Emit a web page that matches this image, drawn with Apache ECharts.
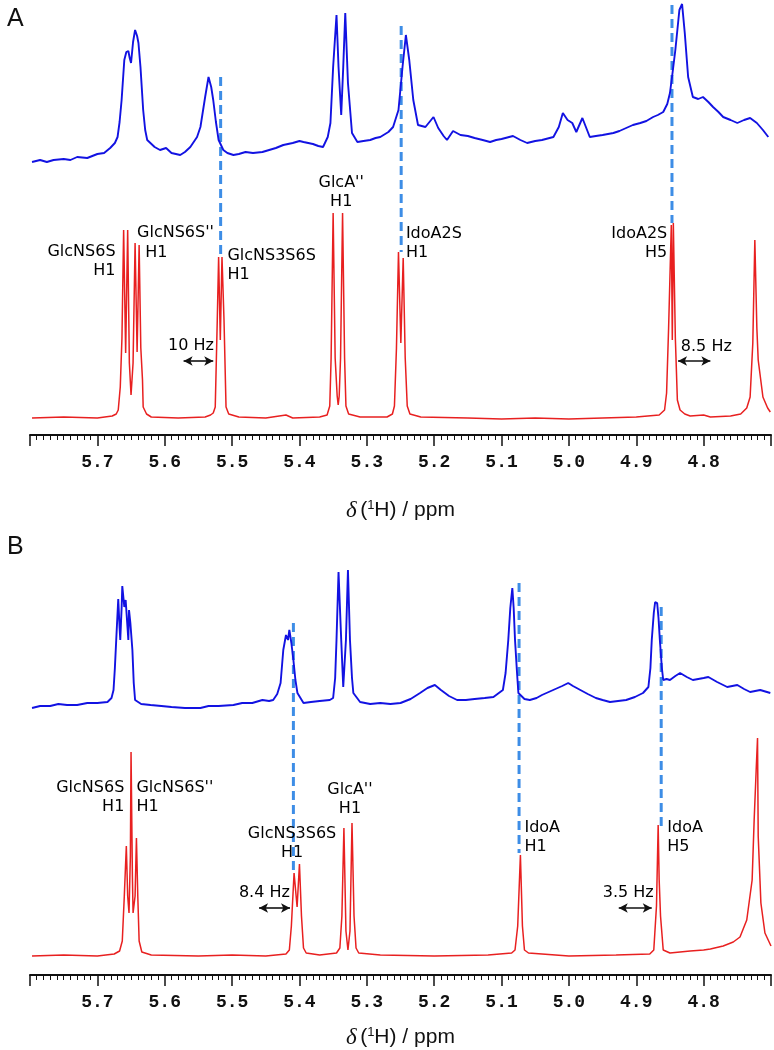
<!DOCTYPE html>
<html><head><meta charset="utf-8">
<script src="https://cdn.jsdelivr.net/npm/echarts/dist/echarts.min.js"></script>
<style>html,body{margin:0;padding:0;background:#fff}#c{width:774px;height:1050px}</style>
</head><body><div id="c"></div>
<script>
// ---- DATA (ppm, intensity) ----
const xTicks = [5.7, 5.6, 5.5, 5.4, 5.3, 5.2, 5.1, 5.0, 4.9, 4.8];

const blueA = [[5.797,0],[5.785,2],[5.775,0],[5.765,2],[5.750,3],[5.740,2],[5.730,5],[5.715,4],[5.700,8],[5.690,9],[5.681,14],[5.674,19],[5.670,25],[5.667,40],[5.664,62],[5.660,102],[5.657,110],[5.654,111],[5.652,104],[5.650,99],[5.647,120],[5.644,132],[5.641,126],[5.639,119],[5.636,95],[5.632,52],[5.629,32],[5.626,22],[5.615,15],[5.607,12],[5.598,14],[5.590,9],[5.577,7],[5.570,10],[5.562,15],[5.552,25],[5.547,35],[5.540,65],[5.535,85],[5.531,75],[5.528,62],[5.524,40],[5.520,22],[5.513,12],[5.507,9],[5.498,7],[5.490,8],[5.480,10],[5.469,9],[5.455,10],[5.445,12],[5.435,14],[5.424,17],[5.410,19],[5.400,21],[5.394,20],[5.380,18],[5.372,16],[5.365,15],[5.358,25],[5.354,39],[5.350,95],[5.345,147],[5.342,95],[5.338,47],[5.335,95],[5.332,149],[5.328,79],[5.322,29],[5.314,20],[5.305,21],[5.295,22],[5.287,24],[5.280,25],[5.268,30],[5.261,35],[5.253,52],[5.247,95],[5.242,127],[5.237,102],[5.231,62],[5.224,37],[5.213,35],[5.201,45],[5.194,34],[5.186,26],[5.181,22],[5.172,31],[5.161,27],[5.150,26],[5.140,24],[5.128,22],[5.117,20],[5.108,22],[5.100,23],[5.083,26],[5.072,22],[5.062,19],[5.050,21],[5.040,22],[5.023,25],[5.015,35],[5.009,49],[5.002,42],[4.995,39],[4.989,30],[4.980,44],[4.969,25],[4.960,26],[4.950,27],[4.934,29],[4.925,31],[4.915,34],[4.905,37],[4.894,39],[4.885,41],[4.875,45],[4.868,47],[4.860,50],[4.854,58],[4.850,69],[4.846,90],[4.842,112],[4.836,152],[4.832,158],[4.828,129],[4.823,85],[4.816,65],[4.808,63],[4.801,65],[4.793,60],[4.786,55],[4.778,50],[4.771,45],[4.760,42],[4.750,39],[4.740,42],[4.731,44],[4.721,39],[4.712,32],[4.704,25]];

const redA = [[5.797,0],[5.750,1],[5.700,0],[5.678,2],[5.672,4],[5.669,8],[5.666,31],[5.6635,80],[5.661,188],[5.658,65],[5.655,188],[5.6525,55],[5.650,23],[5.647,55],[5.644,175],[5.641,66],[5.638,173],[5.6355,70],[5.633,38],[5.632,11],[5.627,4],[5.620,1],[5.580,0],[5.540,1],[5.532,3],[5.528,5],[5.525,11],[5.522,98],[5.520,161],[5.5175,78],[5.515,161],[5.512,98],[5.509,11],[5.505,4],[5.490,1],[5.450,0],[5.420,3],[5.410,0],[5.370,1],[5.359,3],[5.355,12],[5.353,60],[5.350,205],[5.347,60],[5.344,22],[5.3425,13],[5.341,22],[5.339,60],[5.336,205],[5.333,60],[5.331,12],[5.327,4],[5.310,1],[5.270,1],[5.262,4],[5.259,12],[5.256,70],[5.253,166],[5.2495,75],[5.246,160],[5.243,60],[5.240,12],[5.236,4],[5.220,1],[5.150,0],[5.100,-1],[5.050,0],[5.000,-1],[4.950,0],[4.900,1],[4.866,3],[4.858,8],[4.855,25],[4.852,90],[4.848,193],[4.8465,78],[4.845,195],[4.842,80],[4.839,18],[4.835,8],[4.828,4],[4.820,2],[4.800,3],[4.790,1],[4.760,2],[4.745,4],[4.736,10],[4.731,21],[4.727,75],[4.724,178],[4.721,90],[4.719,58],[4.712,21],[4.705,10],[4.701,6]];

const blueB = [[5.797,0],[5.785,2],[5.770,2],[5.758,4],[5.745,3],[5.730,3],[5.715,5],[5.700,5],[5.685,6],[5.679,10],[5.676,18],[5.674,40],[5.672,68],[5.669,109],[5.667,80],[5.666,68],[5.664,100],[5.663,122],[5.661,108],[5.660,101],[5.658,108],[5.657,110],[5.654,68],[5.653,98],[5.651,85],[5.648,58],[5.646,25],[5.644,8],[5.635,4],[5.621,3],[5.605,2],[5.590,1],[5.570,0],[5.547,0],[5.535,2],[5.520,2],[5.498,3],[5.485,5],[5.470,5],[5.455,8],[5.445,7],[5.439,8],[5.433,14],[5.428,25],[5.424,58],[5.420,73],[5.417,68],[5.415,78],[5.412,65],[5.409,48],[5.406,28],[5.403,15],[5.394,5],[5.383,6],[5.370,7],[5.355,8],[5.350,10],[5.347,30],[5.345,68],[5.342,136],[5.338,68],[5.335,21],[5.331,68],[5.328,138],[5.325,68],[5.322,30],[5.320,15],[5.310,6],[5.295,4],[5.280,5],[5.265,4],[5.250,5],[5.235,9],[5.221,15],[5.210,20],[5.199,23],[5.190,18],[5.178,12],[5.166,8],[5.153,8],[5.140,9],[5.125,10],[5.112,11],[5.098,18],[5.094,35],[5.090,68],[5.087,100],[5.084,120],[5.082,100],[5.080,68],[5.077,35],[5.075,15],[5.066,9],[5.058,8],[5.048,10],[5.040,13],[5.030,16],[5.020,19],[5.010,22],[5.001,25],[4.994,22],[4.983,18],[4.972,14],[4.960,10],[4.950,8],[4.939,6],[4.927,7],[4.915,8],[4.902,11],[4.890,15],[4.882,21],[4.879,40],[4.877,68],[4.874,95],[4.872,106],[4.869,105],[4.867,90],[4.865,68],[4.862,40],[4.860,28],[4.855,29],[4.850,28],[4.842,32],[4.835,35],[4.825,31],[4.816,28],[4.808,29],[4.800,30],[4.793,31],[4.780,26],[4.765,21],[4.750,23],[4.740,19],[4.731,16],[4.716,18],[4.701,15]];

const redB = [[5.797,0],[5.750,1],[5.700,0],[5.675,2],[5.667,5],[5.663,15],[5.660,60],[5.657,110],[5.655,60],[5.653,43],[5.651,100],[5.650,204],[5.648,80],[5.647,43],[5.644,60],[5.642,118],[5.640,60],[5.638,15],[5.634,4],[5.620,1],[5.550,0],[5.500,1],[5.450,0],[5.420,2],[5.415,6],[5.412,30],[5.408,83],[5.4035,49],[5.400,92],[5.397,40],[5.394,8],[5.390,3],[5.370,1],[5.345,3],[5.340,8],[5.337,40],[5.334,128],[5.331,25],[5.328,6],[5.325,25],[5.322,133],[5.319,40],[5.316,8],[5.312,3],[5.280,1],[5.200,0],[5.120,1],[5.085,3],[5.080,6],[5.076,30],[5.072,101],[5.069,30],[5.066,6],[5.060,3],[5.000,0],[4.930,1],[4.880,2],[4.874,6],[4.870,50],[4.8675,131],[4.866,76],[4.864,40],[4.860,6],[4.850,3],[4.820,5],[4.800,6],[4.790,7],[4.771,10],[4.756,14],[4.746,19],[4.736,36],[4.728,76],[4.725,136],[4.722,186],[4.720,218],[4.719,120],[4.715,53],[4.709,23],[4.700,10]];

// dashed guide lines: [ppm, blue intensity at top, red intensity at bottom]
const dashA = [[5.517,85,161],[5.249,136,166],[4.847,157,195]];
const dashB = [[5.409,85,83],[5.074,125,103],[4.863,101,130]];

// coupling arrows: [ppm from, ppm to, intensity]
const arrowsA = [[5.572,5.528,57],[4.838,4.790,57]];
const arrowsB = [[5.460,5.414,48],[4.926,4.877,48]];

// labels: [text, ppm, intensity]
const labelsA = [["GlcNS6S\nH1",5.673,157],["GlcNS6S''",5.641,185],["H1",5.629,165],["GlcNS3S6S\nH1",5.507,153],["GlcA''\nH1",5.338,226],["IdoA2S\nH1",5.242,175],["IdoA2S\nH5",4.854,175],["10 Hz",5.561,72],["8.5 Hz",4.796,71]];
const alignA = ['right','left','left','left','center','left','right','center','center'];
const labelsB = [["GlcNS6S\nH1",5.660,159],["GlcNS6S''\nH1",5.642,159],["GlcNS3S6S\nH1",5.411,113],["GlcA''\nH1",5.325,157],["IdoA\nH1",5.066,119],["IdoA\nH5",4.854,119],["8.4 Hz",5.452,63],["3.5 Hz",4.912,63]];
const alignB = ['right','left','center','center','left','left','center','center'];

// ---- LAYOUT ----
const BLUE_OFF = [256, 248];
const BLUE = '#1212e2', RED = '#e82020', DASH = '#3d8de6';

const chart = echarts.init(document.getElementById('c'), null, {renderer:'canvas'});

function xAxisCfg(idx, gap){
  return {
    gridIndex: idx, type:'value', min:4.7, max:5.8, interval:0.1, inverse:true,
    axisLine:{show:true, onZero:false, lineStyle:{color:'#111', width:2}},
    axisTick:{show:true, length:11, lineStyle:{color:'#111', width:1.5}},
    minorTick:{show:true, splitNumber:10, length:5, lineStyle:{color:'#111', width:1}},
    splitLine:{show:false}, minorSplitLine:{show:false},
    axisLabel:{show:true, margin:18, showMinLabel:false, showMaxLabel:false,
      color:'#111', fontFamily:'Liberation Mono', fontWeight:'bold', fontSize:18,
      formatter: v => (xTicks.some(t => Math.abs(t - v) < 1e-6) ? v.toFixed(1) : '')},
    name:'{i|δ} {n|(}{s|1}{n|H) / ppm}', nameLocation:'middle', nameGap:gap,
    nameTextStyle:{rich:{
      i:{fontFamily:'Liberation Serif', fontStyle:'italic', fontSize:23, color:'#111'},
      n:{fontFamily:'Liberation Sans', fontSize:21, color:'#111'},
      s:{fontFamily:'Liberation Sans', fontSize:13, color:'#111', verticalAlign:'top', padding:[0,0,10,0]}
    }}
  };
}

const series = [];
function addPanel(g, blue, red, dashes, arrows, labels, aligns){
  const off = BLUE_OFF[g];
  dashes.forEach(d => series.push({
    type:'line', xAxisIndex:g, yAxisIndex:g, showSymbol:false, silent:true, z:1,
    data:[[d[0], off + d[1]],[d[0], d[2]]],
    lineStyle:{color:DASH, width:3, type:[9,5]}
  }));
  series.push({type:'line', xAxisIndex:g, yAxisIndex:g, showSymbol:false, silent:true, z:3, clip:false,
    data: blue.map(p => [p[0], p[1] + off]), lineStyle:{color:BLUE, width:1.9}});
  series.push({type:'line', xAxisIndex:g, yAxisIndex:g, showSymbol:false, silent:true, z:3, clip:false,
    data: red, lineStyle:{color:RED, width:1.5},
    markLine:{silent:true, symbol:['arrow','arrow'], symbolSize:[7,9], label:{show:false},
      lineStyle:{color:'#111', width:1.6, type:'solid'},
      data: arrows.map(a => [{coord:[a[0], a[2]]},{coord:[a[1], a[2]]}])}});
  series.push({type:'scatter', xAxisIndex:g, yAxisIndex:g, symbolSize:0, silent:true, z:5,
    itemStyle:{opacity:1},
    data: labels.map((l,i) => ({value:[l[1], l[2]], name:l[0],
      label:{show:true, position:[0,0], align:aligns[i], verticalAlign:'middle', opacity:1,
        formatter:l[0], fontFamily:'DejaVu Sans', fontSize:16, lineHeight:19, color:'#000'}}))});
}
addPanel(0, blueA, redA, dashA, arrowsA, labelsA, alignA);
addPanel(1, blueB, redB, dashB, arrowsB, labelsB, alignB);

chart.setOption({
  animation:false,
  backgroundColor:'#fff',
  title:[
    {text:'A', left:2, top:2, textStyle:{fontFamily:'Liberation Sans', fontWeight:'normal', fontSize:25, color:'#111'}},
    {text:'B', left:2, top:530, textStyle:{fontFamily:'Liberation Sans', fontWeight:'normal', fontSize:25, color:'#111'}}
  ],
  grid:[
    {left:30, right:3, top:0, height:435},
    {left:30, right:3, top:560, height:415}
  ],
  xAxis:[xAxisCfg(0, 64), xAxisCfg(1, 51)],
  yAxis:[
    {gridIndex:0, type:'value', min:-17, max:418, show:false},
    {gridIndex:1, type:'value', min:-19, max:396, show:false}
  ],
  series
});
</script></body></html>
